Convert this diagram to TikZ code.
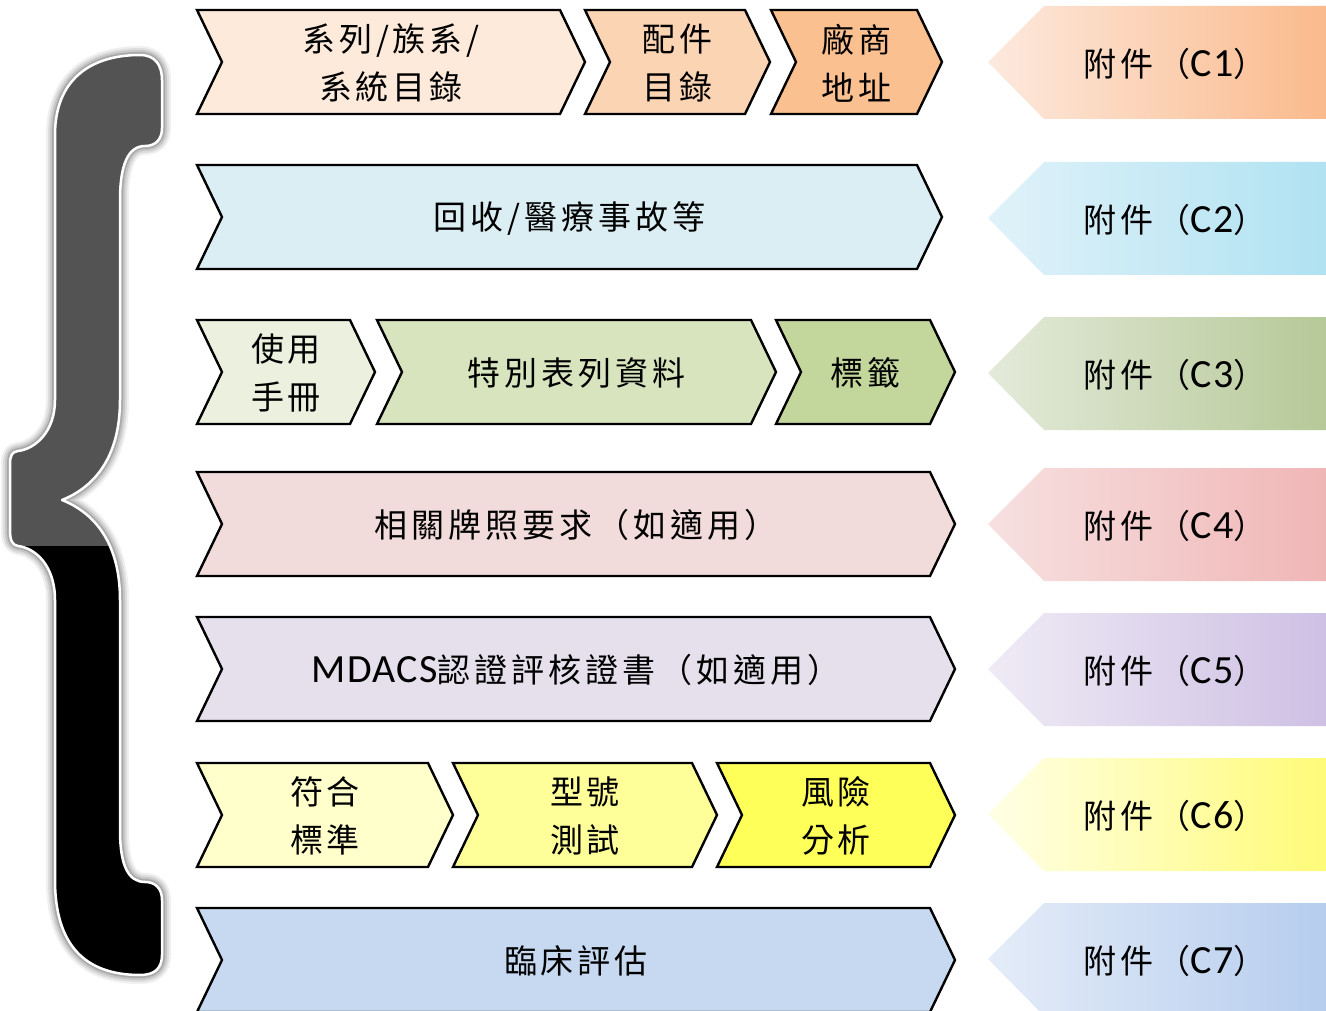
\documentclass[tikz,border=0pt]{standalone}
\usepackage{fontspec}
\setmainfont[LetterSpace=12]{Noto Sans CJK TC}
\newfontfamily\lat[LetterSpace=3]{Carlito}
\usepackage{tikz}
\usetikzlibrary{calc,positioning,shapes}
\tikzstyle{chev} = [draw, line width=2.4pt, line join=miter, miter limit=10]
\tikzstyle{chevtext} = [inner sep=0pt, align=center, text=black,
  font=\fontsize{33}{48}\selectfont]
\tikzstyle{attachtext} = [inner sep=0pt, text=black,
  font=\fontsize{33}{40}\selectfont]
\definecolor{peachA}{RGB}{253,234,218}
\definecolor{peachB}{RGB}{251,212,180}
\definecolor{peachC}{RGB}{250,192,144}
\definecolor{skyA}{RGB}{218,238,243}
\definecolor{oliveA}{RGB}{235,241,222}
\definecolor{oliveB}{RGB}{215,228,189}
\definecolor{oliveC}{RGB}{195,214,155}
\definecolor{roseA}{RGB}{242,220,219}
\definecolor{lilacA}{RGB}{229,224,236}
\definecolor{lemonA}{RGB}{255,255,204}
\definecolor{lemonB}{RGB}{255,255,153}
\definecolor{lemonC}{RGB}{255,255,90}
\definecolor{steelA}{RGB}{198,217,241}
\definecolor{braceGray}{RGB}{83,83,83}
% gradient ends of the attachment arrows
\definecolor{cA}{RGB}{253,233,222} \definecolor{cAA}{RGB}{250,186,140}
\definecolor{cB}{RGB}{224,242,249} \definecolor{cBB}{RGB}{176,226,242}
\definecolor{cC}{RGB}{228,234,218} \definecolor{cCC}{RGB}{182,201,152}
\definecolor{cD}{RGB}{247,224,224} \definecolor{cDD}{RGB}{240,182,182}
\definecolor{cE}{RGB}{239,235,245} \definecolor{cEE}{RGB}{206,192,228}
\definecolor{cF}{RGB}{255,255,230} \definecolor{cFF}{RGB}{255,251,120}
\definecolor{cG}{RGB}{228,236,248} \definecolor{cGG}{RGB}{182,205,238}
% chevron: name, left x, tip x, top y, fill, text
\newcommand{\chevbox}[6]{%
  \path[chev, fill=#5] (#2,#4) -- (#3-25,#4) -- (#3,#4+52) -- (#3-25,#4+104)
    -- (#2,#4+104) -- (#2+25,#4+52) -- cycle;
  \node[chevtext] (#1) at ({(#2+#3)/2},#4+53) {#6};
}
% attachment arrow: name, top y, left colour, right colour, number
\newcommand{\attachbox}[5]{%
  \shade[left color=#3, right color=#4] (988,#2+56) -- (1044,#2) -- (1326,#2)
    -- (1326,#2+113) -- (1044,#2+113) -- cycle;
  \node[attachtext] (#1) at (1175,#2+58) {附件（{\lat\fontsize{40}{40}\selectfont #5}）};
}
\newcommand{\bracepath}{(162,80) -- (162,128)
  .. controls (162,140) and (155,146) .. (145,146)
  .. controls (128,146) and (120,165) .. (120,200) -- (120,400)
  .. controls (120,460) and (92,488) .. (62,500)
  .. controls (92,512) and (120,540) .. (120,600) -- (120,830)
  .. controls (120,865) and (128,882) .. (145,882)
  .. controls (155,882) and (162,888) .. (162,900) -- (162,955)
  .. controls (162,968) and (155,975) .. (140,975)
  .. controls (85,975) and (55,945) .. (55,880) -- (55,600)
  .. controls (55,565) and (35,548) .. (18,546)
  .. controls (12,545) and (10,540) .. (10,530) -- (10,465)
  .. controls (10,455) and (12,452) .. (18,451)
  .. controls (35,449) and (55,432) .. (55,400) -- (55,135)
  .. controls (55,80) and (90,55) .. (140,55)
  .. controls (155,55) and (162,65) .. (162,80) -- cycle}

\begin{document}
\begin{tikzpicture}[x=1pt, y=-1pt]
  \useasboundingbox (0,0) rectangle (1326,1011);

  %%%%%%%%%%%%%%%%%%%%%%%%%%%%%%%%%%%%%%%%%%%%%%%%%%%%%%%%%%%%%%
  %                        BRACE                               %
  %%%%%%%%%%%%%%%%%%%%%%%%%%%%%%%%%%%%%%%%%%%%%%%%%%%%%%%%%%%%%%

  \foreach \w/\o in {18/0.06, 14/0.08, 10/0.1, 6/0.15}
    \draw[line width=\w pt, black, opacity=\o, line join=round] \bracepath;
  \begin{scope}
    \clip \bracepath;
    \fill[braceGray] (0,40) rectangle (170,546);
    \fill[black] (0,546) rectangle (170,990);
  \end{scope}
  \draw[white, line width=2.5pt, line join=round] \bracepath;

  %%%%%%%%%%%%%%%%%%%%%%%%%%%%%%%%%%%%%%%%%%%%%%%%%%%%%%%%%%%%%%
  %                        CHEVRONS                            %
  %%%%%%%%%%%%%%%%%%%%%%%%%%%%%%%%%%%%%%%%%%%%%%%%%%%%%%%%%%%%%%

  \chevbox{series}{197}{585}{10}{peachA}{系列/族系/\\系統目錄}
  \chevbox{accessory}{585}{770}{10}{peachB}{配件\\目錄}
  \chevbox{maker}{771}{942}{10}{peachC}{廠商\\地址}

  \chevbox{recall}{197}{942}{165}{skyA}{回收/醫療事故等}

  \chevbox{manual}{197}{375}{320}{oliveA}{使用\\手冊}
  \chevbox{special}{377}{776}{320}{oliveB}{特別表列資料}
  \chevbox{labels}{776}{955}{320}{oliveC}{標籤}

  \chevbox{licence}{197}{955}{472}{roseA}{相關牌照要求（如適用）}

  \chevbox{mdacs}{197}{955}{617}{lilacA}{{\lat\fontsize{40}{40}\selectfont MDACS}認證評核證書（如適用）}

  \chevbox{standard}{197}{453}{763}{lemonA}{符合\\標準}
  \chevbox{typetest}{453}{717}{763}{lemonB}{型號\\測試}
  \chevbox{risk}{717}{955}{763}{lemonC}{風險\\分析}

  \chevbox{clinical}{197}{955}{908}{steelA}{臨床評估}

  %%%%%%%%%%%%%%%%%%%%%%%%%%%%%%%%%%%%%%%%%%%%%%%%%%%%%%%%%%%%%%
  %                        ATTACHMENTS                         %
  %%%%%%%%%%%%%%%%%%%%%%%%%%%%%%%%%%%%%%%%%%%%%%%%%%%%%%%%%%%%%%

  \attachbox{c1}{6}{cA}{cAA}{C1}
  \attachbox{c2}{162}{cB}{cBB}{C2}
  \attachbox{c3}{317}{cC}{cCC}{C3}
  \attachbox{c4}{468}{cD}{cDD}{C4}
  \attachbox{c5}{613}{cE}{cEE}{C5}
  \attachbox{c6}{758}{cF}{cFF}{C6}
  \attachbox{c7}{903}{cG}{cGG}{C7}

\end{tikzpicture}
\end{document}
